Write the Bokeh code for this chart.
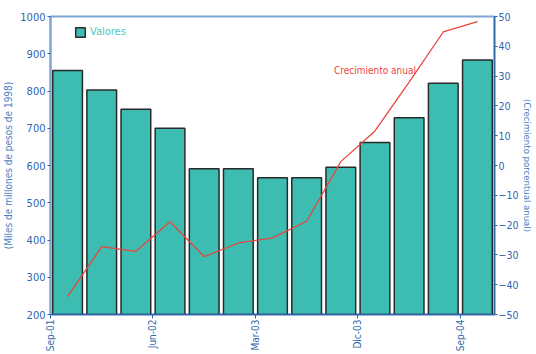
import math
from bokeh.plotting import figure
from bokeh.models import (Range1d, LinearAxis, FixedTicker, Label, Legend, LegendItem,
                          ColumnDataSource)
from bokeh.embed import file_html
from bokeh.resources import INLINE

periods = ["Sep-01", "Dic-01", "Mar-02", "Jun-02", "Sep-02", "Dic-02", "Mar-03",
           "Jun-03", "Sep-03", "Dic-03", "Mar-04", "Jun-04", "Sep-04"]
valores = [855, 803, 751, 700, 591, 591, 567, 567, 595, 662, 728, 821, 883]
crecimiento = [-44.0, -27.2, -28.8, -18.9, -30.6, -26.0, -24.3, -18.7, 1.3, 11.6, 28.0, 44.8, 48.3]
tick_labels = {0: "Sep-01", 3: "Jun-02", 6: "Mar-03", 9: "Dic-03", 12: "Sep-04"}

FONT = "DejaVu Sans Condensed"
BLUE = "#2f66ab"
LIGHT = "#7ea6d2"
TEAL = "#3dbdb2"
RED = "#e8453c"

xs = [i + 0.5 for i in range(len(periods))]
src = ColumnDataSource(dict(x=xs, v=valores, c=crecimiento, per=periods))

p = figure(width=536, height=354, output_backend="svg", toolbar_location=None,
           x_range=Range1d(0, len(periods)), y_range=Range1d(200, 1000),
           min_border_left=49, min_border_right=36, min_border_top=16, min_border_bottom=37)
p.extra_y_ranges = {"g": Range1d(-50, 50)}

p.background_fill_color = "white"
p.border_fill_color = "white"
p.outline_line_color = LIGHT
p.outline_line_width = 2
p.grid.visible = False

bars = p.vbar(x="x", top="v", bottom=200, width=0.87, source=src,
              fill_color=TEAL, line_color="#2a2a2a", line_width=1.5)
p.line(x="x", y="c", source=src, y_range_name="g", line_color=RED, line_width=1.3)

# x axis
xa = p.xaxis[0]
xa.ticker = FixedTicker(ticks=list(tick_labels.keys()))
xa.major_label_overrides = {k: v for k, v in tick_labels.items()}
xa.major_label_orientation = math.pi / 2
xa.minor_tick_line_color = None
xa.axis_line_color = BLUE
xa.axis_line_width = 1.5
xa.major_tick_line_color = BLUE
xa.major_tick_in = 0
xa.major_tick_out = 4
xa.major_label_text_color = BLUE
xa.major_label_text_font = FONT
xa.major_label_text_font_size = "10px"
xa.major_label_standoff = 1

# left axis
ya = p.yaxis[0]
ya.ticker = FixedTicker(ticks=list(range(200, 1001, 100)))
ya.axis_label = "(Miles de millones de pesos de 1998)"
ya.axis_label_text_font = FONT
ya.axis_label_text_font_size = "10px"
ya.axis_label_text_font_style = "normal"
ya.axis_label_text_color = "#4a7fc0"
ya.axis_label_standoff = 3
ya.axis_line_color = LIGHT
ya.axis_line_width = 2
ya.major_tick_line_color = BLUE
ya.major_tick_in = 0
ya.major_tick_out = 3
ya.minor_tick_line_color = None
ya.major_label_text_color = BLUE
ya.major_label_text_font = FONT
ya.major_label_text_font_size = "11px"
ya.major_label_standoff = 2

# right axis
ra = LinearAxis(y_range_name="g", ticker=FixedTicker(ticks=list(range(-50, 51, 10))),
                axis_label="(Crecimiento porcentual anual)")
ra.axis_label_text_font = FONT
ra.axis_label_text_font_size = "9.5px"
ra.axis_label_text_font_style = "normal"
ra.axis_label_text_color = "#4a7fc0"
ra.axis_label_standoff = 1
ra.axis_line_color = BLUE
ra.axis_line_width = 1.5
ra.major_tick_line_color = BLUE
ra.major_tick_in = 0
ra.major_tick_out = 3
ra.minor_tick_line_color = None
ra.major_label_text_color = BLUE
ra.major_label_text_font = FONT
ra.major_label_text_font_size = "10.5px"
ra.major_label_standoff = 1
p.add_layout(ra, "right")

legend = Legend(items=[LegendItem(label="Valores", renderers=[bars])],
                location=(20, 272), background_fill_alpha=0, border_line_alpha=0,
                label_text_color="#4cc9c0", label_text_font=FONT, label_text_font_size="11px",
                glyph_width=12, glyph_height=12, padding=4, margin=0, label_standoff=4)
p.add_layout(legend)

p.add_layout(Label(x=8.3, y=32, y_range_name="g", text="Crecimiento anual",
                   text_color="#f0443a", text_font=FONT, text_font_size="10px",
                   text_baseline="middle"))

open("out.html", "w").write(file_html(p, INLINE))
